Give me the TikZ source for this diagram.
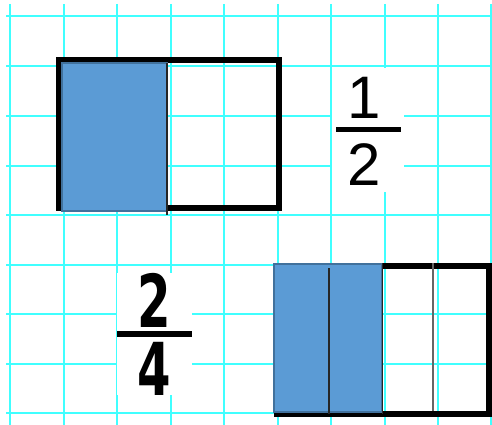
\documentclass[tikz,border=0pt]{standalone}
\usepackage{fontspec}
\newfontfamily\arialf{Liberation Sans}
\newfontfamily\blockf{DejaVu Sans}
\definecolor{gridcyan}{HTML}{40FFFF}
\definecolor{fillblue}{HTML}{5B9BD5}
\definecolor{edgeblue}{HTML}{41719C}
\tikzset{
  gridline/.style={draw=gridcyan, line width=2pt},
  outline/.style={draw=black, line width=6pt},
  shaded/.style={fill=fillblue, draw=edgeblue, line width=1.2pt},
  divider/.style={draw=black!85, line width=1.3pt},
  whitebox/.style={fill=white, draw=none, inner sep=0pt},
  fracbar/.style={draw=black},
  numA/.style={font=\arialf\fontsize{60}{60}\selectfont, inner sep=0pt, anchor=base},
  numB/.style={font=\blockf\bfseries\fontsize{73}{73}\selectfont, inner sep=0pt, anchor=base},
}
\begin{document}
\begin{tikzpicture}[x=1pt,y=-1pt]
\useasboundingbox (0,0) rectangle (492,425);
\fill[white] (0,0) rectangle (492,425);
% grid
\foreach \x in {10,63.5,117,170.5,224,277.5,331,384.5,438,491}
  \draw[gridline] (\x,4) -- (\x,425);
\foreach \y in {16,66,116,165.5,215,265,314,364,413}
  \draw[gridline] (6,\y) -- (492,\y);
% first rectangle: one half
\draw[outline] (59,60) rectangle (279,208);
\draw[shaded] (62,63) rectangle (167,211);
\coordinate (d1t) at (167,63);
\coordinate (d1b) at (167,215);
\draw[divider] (d1t) -- (d1b);
% second rectangle: two quarters
\draw[outline] (277,266) rectangle (489,414);
\draw[shaded] (274,264) rectangle (382,412);
\coordinate (q1t) at (329,268);
\coordinate (q1b) at (329,414);
\coordinate (q2t) at (382,263);
\coordinate (q2b) at (382,414);
\coordinate (q3t) at (433,263);
\coordinate (q3b) at (433,411);
\draw[divider] (q1t) -- (q1b);
\draw[divider, line width=1pt] (q2t) -- (q2b);
\draw[divider, draw=black!60] (q3t) -- (q3b);
% fraction 1/2
\node[whitebox, minimum width=72pt, minimum height=124pt] (bg1) at (368,130) {};
\node[numA] (n1) at (364,118) {1};
\node[numA] (d2) at (364,185) {2};
\coordinate (b1l) at (336,129.5);
\coordinate (b1r) at (401,129.5);
\draw[fracbar, line width=4.5pt] (b1l) -- (b1r);
% fraction 2/4
\node[whitebox, minimum width=75pt, minimum height=122pt] (bg2) at (154.5,334) {};
\node[numB] (n2) at (154.5,327) {\scalebox{0.66}[1]{2}};
\node[numB] (d4) at (154.5,395) {\scalebox{0.66}[1]{4}};
\coordinate (b2l) at (117,334);
\coordinate (b2r) at (192,334);
\draw[fracbar, line width=6pt] (b2l) -- (b2r);
\end{tikzpicture}
\end{document}
